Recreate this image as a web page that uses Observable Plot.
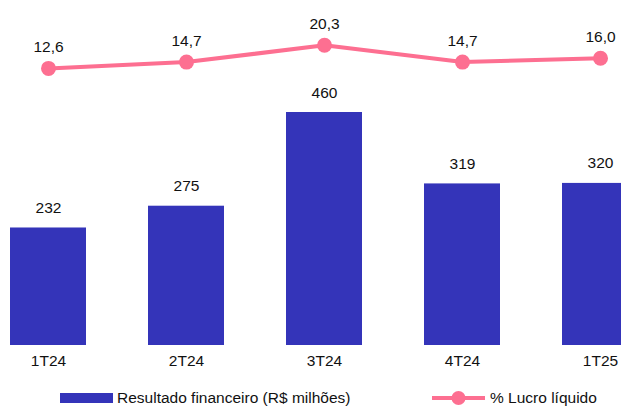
<!DOCTYPE html>
<html>
<head>
<meta charset="utf-8">
<script src="https://cdn.jsdelivr.net/npm/d3@7"></script>
<script src="https://cdn.jsdelivr.net/npm/@observablehq/plot@0.6"></script>
<style>
  html, body { margin: 0; padding: 0; background: #fff; overflow: hidden; }
  #wrap { position: relative; width: 621px; height: 410px; font-family: "Liberation Sans", Arial, sans-serif; }
  #wrap svg { position: absolute; left: 0; top: 0; overflow: hidden; }
  .legend { position: absolute; top: 388px; height: 20px; font-size: 15.5px; color: #111; display: flex; align-items: center; white-space: nowrap; }
</style>
</head>
<body>
<div id="wrap"></div>
<script>
const categories = ["1T24", "2T24", "3T24", "4T24", "1T25"];
const resultado = [232, 275, 460, 319, 320];
const lucro = [12.6, 14.7, 20.3, 14.7, 16.0];
const lucroLabels = ["12,6", "14,7", "20,3", "14,7", "16,0"];
const seriesNames = ["Resultado financeiro (R$ milhões)", "% Lucro líquido"];

const barColor = "#3434b9";
const lineColor = "#fd6f91";
const W = 621, H = 380;
const fs = 15.5;

const bars = categories.map((c, i) => ({cat: c, v: resultado[i]}));
const pts = categories.map((c, i) => ({cat: c, v: lucro[i], label: lucroLabels[i]}));

const xOpts = {type: "band", domain: categories, range: [7.8, 640.2], paddingInner: 0.45, paddingOuter: 0};
const style = {fontFamily: "'Liberation Sans', Arial, sans-serif", fontSize: fs + "px", color: "#111", background: "transparent"};

const p1 = Plot.plot({
  width: W, height: H,
  marginTop: 112, marginBottom: H - 345, marginLeft: 0, marginRight: 0,
  style,
  x: {...xOpts, label: null},
  y: {domain: [0, 460], axis: null},
  marks: [
    Plot.barY(bars, {x: "cat", y: "v", fill: barColor}),
    Plot.text(bars, {x: "cat", y: "v", text: d => String(d.v), dy: -15, lineAnchor: "bottom", fill: "#111", fontSize: fs}),
    Plot.axisX({tickSize: 0, tickPadding: 9, label: null, fontSize: fs})
  ]
});

const p2 = Plot.plot({
  width: W, height: H,
  marginTop: 15.7, marginBottom: H - 105.7, marginLeft: 0, marginRight: 0,
  style,
  x: {...xOpts, axis: null},
  y: {domain: [0, 30], axis: null},
  marks: [
    Plot.line(pts, {x: "cat", y: "v", stroke: lineColor, strokeWidth: 4}),
    Plot.dot(pts, {x: "cat", y: "v", r: 7.5, fill: lineColor}),
    Plot.text(pts, {x: "cat", y: "v", text: "label", dy: -16, lineAnchor: "bottom", fill: "#111", fontSize: fs})
  ]
});

const wrap = document.getElementById("wrap");
wrap.appendChild(p1);
wrap.appendChild(p2);

const lg1 = document.createElement("div");
lg1.className = "legend";
lg1.style.left = "60px";
lg1.innerHTML = `<span style="display:inline-block;width:53px;height:10px;background:${barColor};margin-right:4px"></span><span>${seriesNames[0]}</span>`;
wrap.appendChild(lg1);

const lg2 = document.createElement("div");
lg2.className = "legend";
lg2.style.left = "432px";
lg2.innerHTML = `<svg width="53" height="16" style="position:static;margin-right:5px"><line x1="0" y1="8" x2="53" y2="8" stroke="${lineColor}" stroke-width="4"/><circle cx="26.5" cy="8" r="7" fill="${lineColor}"/></svg><span>${seriesNames[1]}</span>`;
wrap.appendChild(lg2);
</script>
</body>
</html>
